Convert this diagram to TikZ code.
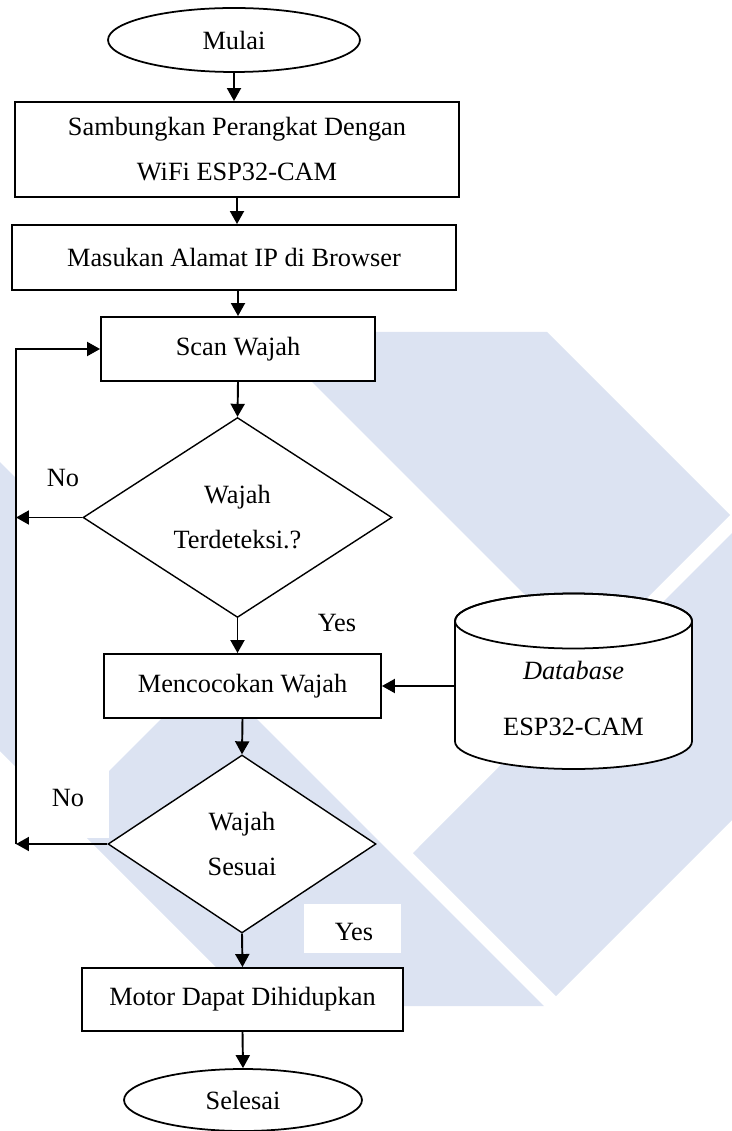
\documentclass[tikz,border=0pt]{standalone}
\usepackage{fontspec}
\setmainfont{Liberation Serif}
\usetikzlibrary{shapes.geometric,arrows.meta,positioning,calc}
\definecolor{logobiru}{RGB}{220,227,242}
\tikzset{
    proses/.style={draw, rectangle, fill=white, line width=1.1pt, inner sep=0pt, align=center},
    terminal/.style={draw, ellipse, fill=white, line width=1pt, inner sep=0pt},
    keputusan/.style={draw, diamond, fill=white, line width=0.8pt, inner sep=0pt, align=center},
    panah/.style={-{Triangle[length=0.26cm,width=0.28cm]}, line width=1.1pt},
    garis/.style={line width=1.1pt}
}

\begin{document}
\begin{tikzpicture}[x=0.02cm, y=-0.02cm, font=\fontsize{15pt}{25.6pt}\selectfont]
    \useasboundingbox (0,0) rectangle (732,1131);
    % logo samar di belakang
    \fill[logobiru] (262,332) -- (547,332) -- (730,515) -- (587.5,657.5) -- cycle;
    \fill[logobiru] (732,533) -- (413,853) -- (556,996) -- (732,820) -- cycle;
    \fill[logobiru] (209,671) -- (544,1006) -- (255,1006) -- (64.5,815.5) -- cycle;
    \fill[logobiru] (0,462) -- (16,478) -- (16,767) -- (0,751) -- cycle;
    \fill[white] (27,771) rectangle (109,838);
    \fill[white] (304,904) rectangle (401,953);

    % database
    \filldraw[fill=white, line width=1pt] (455,621) -- (455,741.5)
        arc[start angle=180, end angle=360, x radius=2.37cm, y radius=0.55cm] -- (692,621)
        arc[start angle=0, end angle=180, x radius=2.37cm, y radius=0.55cm];
    \draw[line width=1pt] (573.5,621) ellipse[x radius=2.37cm, y radius=0.55cm];
    \node[minimum width=4.74cm, inner sep=0pt, align=center] (db) at (573.5,698.5) {\textit{Database}\\[6.8pt]ESP32-CAM};

    % alur utama
    \node[terminal, minimum width=5.04cm, minimum height=1.28cm] (mulai) at (234,40) {Mulai};
    \node[proses, minimum width=8.88cm, minimum height=1.9cm] (sambung) at (237,149.5) {Sambungkan Perangkat Dengan\\WiFi ESP32-CAM};
    \node[proses, minimum width=8.88cm, minimum height=1.3cm] (alamat) at (234,257.5) {Masukan Alamat IP di Browser};
    \node[proses, minimum width=5.48cm, minimum height=1.28cm] (scan) at (238,349) {Scan Wajah};
    \node[keputusan, aspect=1.55, minimum width=6.18cm, minimum height=4cm] (deteksi) at (237.5,517.5) {Wajah\\Terdeteksi.?};
    \node[proses, minimum width=5.54cm, minimum height=1.28cm] (cocok) at (242.5,686) {Mencocokan Wajah};
    \node[keputusan, aspect=1.5, minimum width=5.36cm, minimum height=3.56cm] (sesuai) at (242,844) {Wajah\\Sesuai};
    \node[proses, minimum width=6.42cm, minimum height=1.26cm] (motor) at (242.5,999.5) {Motor Dapat Dihidupkan};
    \node[terminal, minimum width=4.76cm, minimum height=1.24cm] (selesai) at (243,1100) {Selesai};

    % label
    \node (no1) at (63,478) {No};
    \node (yes1) at (337,623) {Yes};
    \node (no2) at (68,798) {No};
    \node (yes2) at (354,932) {Yes};

    % panah
    \draw[panah] (mulai.south) -- (mulai.south |- sambung.north);
    \draw[panah] (sambung.south) -- (sambung.south |- alamat.north);
    \draw[panah] (scan.north |- alamat.south) -- (scan.north);
    \draw[panah] (scan.south) -- (deteksi.north);
    \draw[panah] (deteksi.south) -- (deteksi.south |- cocok.north);
    \draw[panah] (cocok.south) -- (sesuai.north);
    \draw[panah] (sesuai.south) -- (motor.north);
    \draw[panah] (motor.south) -- (selesai.north);
    \draw[panah] (db.west |- cocok.east) -- (cocok.east);

    % kembali ke scan
    \coordinate (balik) at (16,349);
    \draw[panah] (deteksi.west) -- (deteksi.west -| balik);
    \draw[panah] (sesuai.west) -- (sesuai.west -| balik);
    \draw[panah] (sesuai.west -| balik) -- (balik) -- (scan.west);
\end{tikzpicture}
\end{document}
